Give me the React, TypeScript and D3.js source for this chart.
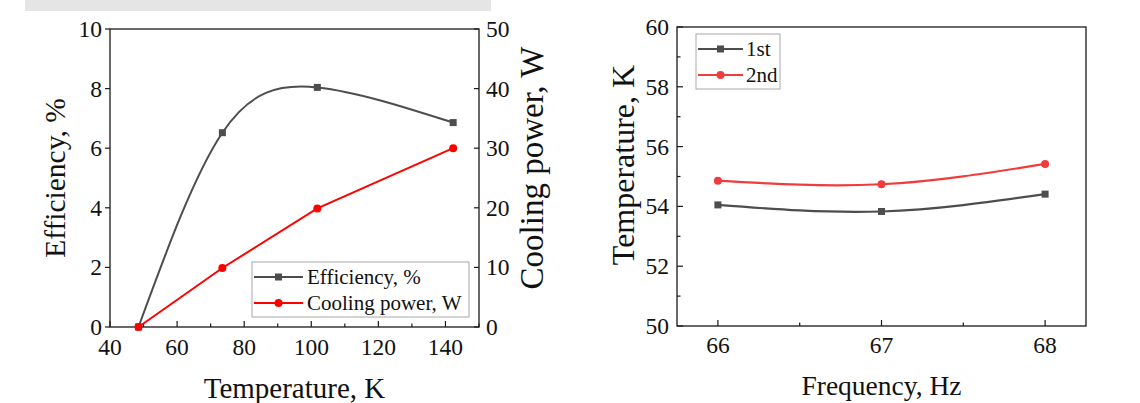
import React from 'react';
import * as d3 from 'd3';

// ---- Left chart data ----
const tempK = [48.5, 73.5, 101.8, 142.3];
const efficiency = [0, 6.52, 8.04, 6.86];
const coolingPower = [0, 9.9, 19.9, 30];
const leftXTicks = [40, 60, 80, 100, 120, 140];
const leftXMinor = [50, 70, 90, 110, 130, 150];
const leftYTicks = [0, 2, 4, 6, 8, 10];
const rightYTicks = [0, 10, 20, 30, 40, 50];

// ---- Right chart data ----
const freqHz = [66, 67, 68];
const run1st = [54.05, 53.83, 54.41];
const run2nd = [54.86, 54.74, 55.42];
const freqTicks = [66, 67, 68];
const freqMinor = [66.5, 67.5];
const tempTicks = [50, 52, 54, 56, 58, 60];
const tempMinor = [51, 53, 55, 57, 59];

const FONT = "'Liberation Serif', 'Times New Roman', Times, serif";
const AX = '#1a1a1a';
const GRAY = '#4d4d4d';
const RED = '#ff0000';
const RED2 = '#f03c3c';
const TICK_FS = 23.5;

export default function App() {
  const xL = d3.scaleLinear().domain([40, 150]).range([110, 479]);
  const yL = d3.scaleLinear().domain([0, 10]).range([327, 29]);
  const yR = d3.scaleLinear().domain([0, 50]).range([327, 29]);

  const effPts: [number, number][] = tempK.map((t, i) => [xL(t), yL(efficiency[i])]);
  const cpPts: [number, number][] = tempK.map((t, i) => [xL(t), yR(coolingPower[i])]);
  const effPath = d3.line().curve(d3.curveNatural)(effPts) || '';
  const cpPath = d3.line()(cpPts) || '';

  const xF = d3.scaleLinear().domain([65.75, 68.25]).range([677, 1086]);
  const yT = d3.scaleLinear().domain([50, 60]).range([326, 27]);
  const p1: [number, number][] = freqHz.map((f, i) => [xF(f), yT(run1st[i])]);
  const p2: [number, number][] = freqHz.map((f, i) => [xF(f), yT(run2nd[i])]);
  const path1 = d3.line().curve(d3.curveNatural)(p1) || '';
  const path2 = d3.line().curve(d3.curveNatural)(p2) || '';

  const [lx0, lx1] = xL.range();
  const [ly0, ly1] = [yL.range()[1], yL.range()[0]];
  const [rx0, rx1] = xF.range();
  const [ry0, ry1] = [yT.range()[1], yT.range()[0]];

  const sq = (x: number, y: number, c: string, k: string) => (
    <rect key={k} x={x - 3.5} y={y - 3.5} width={7} height={7} fill={c} />
  );
  const circ = (x: number, y: number, c: string, k: string) => (
    <circle key={k} cx={x} cy={y} r={4} fill={c} />
  );

  return (
    <svg
      width={1140}
      height={403}
      style={{ position: 'absolute', left: 0, top: 0, background: '#fff', fontFamily: FONT }}
    >
      <style>{`text { font-family: 'Liberation Serif', 'Times New Roman', Times, serif; }`}</style>
      <rect x={0} y={0} width={1140} height={403} fill="#fff" />
      <rect x={25} y={0} width={466} height={11} fill="#e5e5e5" />

      {/* ---------- LEFT CHART ---------- */}
      <g>
        <rect x={lx0} y={ly0} width={lx1 - lx0} height={ly1 - ly0} fill="none" stroke={AX} strokeWidth={1.3} />
        {leftXTicks.map((t) => (
          <g key={'lxt' + t}>
            <line x1={xL(t)} x2={xL(t)} y1={ly1} y2={ly1 - 6} stroke={AX} strokeWidth={1.2} />
            <text x={xL(t)} y={355} fontSize={TICK_FS} textAnchor="middle" fill="#111">{t}</text>
          </g>
        ))}
        {leftXMinor.map((t) => (
          <line key={'lxm' + t} x1={xL(t)} x2={xL(t)} y1={ly1} y2={ly1 - 3.5} stroke={AX} strokeWidth={1.2} />
        ))}
        {leftYTicks.map((t) => (
          <g key={'lyt' + t}>
            <line x1={lx0} x2={lx0 - 5} y1={yL(t)} y2={yL(t)} stroke={AX} strokeWidth={1.2} />
            <text x={102} y={yL(t)} dy="0.34em" fontSize={TICK_FS} textAnchor="end" fill="#111">{t}</text>
          </g>
        ))}
        {rightYTicks.map((t) => (
          <g key={'ryt' + t}>
            <line x1={lx1} x2={lx1 - 5} y1={yR(t)} y2={yR(t)} stroke={AX} strokeWidth={1.2} />
            <text x={486} y={yR(t)} dy="0.34em" fontSize={TICK_FS} textAnchor="start" fill="#111">{t}</text>
          </g>
        ))}
        <text x={(lx0 + lx1) / 2} y={398} fontSize={29} textAnchor="middle" fill="#111">Temperature, K</text>
        <text transform={`translate(65,${178}) rotate(-90)`} fontSize={29.5} textAnchor="middle" fill="#111">Efficiency, %</text>
        <text transform={`translate(543,${168}) rotate(-90)`} fontSize={33} textAnchor="middle" fill="#111">Cooling power, W</text>

        <path d={effPath} fill="none" stroke={GRAY} strokeWidth={2} />
        {effPts.map(([x, y], i) => sq(x, y, GRAY, 'es' + i))}
        <path d={cpPath} fill="none" stroke={RED} strokeWidth={2} />
        {cpPts.map(([x, y], i) => circ(x, y, RED, 'cp' + i))}

        <rect x={252} y={262} width={217} height={55} fill="#fff" stroke="#a8a8a8" strokeWidth={1} />
        <line x1={254} x2={303} y1={277} y2={277} stroke={GRAY} strokeWidth={2} />
        {sq(278.5, 277, GRAY, 'lg1')}
        <text x={307} y={277} dy="0.34em" fontSize={21} fill="#111">Efficiency, %</text>
        <line x1={254} x2={303} y1={303} y2={303} stroke={RED} strokeWidth={2} />
        {circ(278.5, 303, RED, 'lg2')}
        <text x={307} y={303} dy="0.34em" fontSize={21} fill="#111">Cooling power, W</text>
      </g>

      {/* ---------- RIGHT CHART ---------- */}
      <g>
        <rect x={rx0} y={ry0} width={rx1 - rx0} height={ry1 - ry0} fill="none" stroke={AX} strokeWidth={1.3} />
        {freqTicks.map((t) => (
          <g key={'fxt' + t}>
            <line x1={xF(t)} x2={xF(t)} y1={ry1} y2={ry1 - 6} stroke={AX} strokeWidth={1.2} />
            <text x={xF(t)} y={353} fontSize={TICK_FS} textAnchor="middle" fill="#111">{t}</text>
          </g>
        ))}
        {freqMinor.map((t) => (
          <line key={'fxm' + t} x1={xF(t)} x2={xF(t)} y1={ry1} y2={ry1 - 3.5} stroke={AX} strokeWidth={1.2} />
        ))}
        {tempTicks.map((t) => (
          <g key={'tyt' + t}>
            <line x1={rx0} x2={rx0 + 6} y1={yT(t)} y2={yT(t)} stroke={AX} strokeWidth={1.2} />
            <text x={rx0 - 8} y={yT(t)} dy="0.34em" fontSize={TICK_FS} textAnchor="end" fill="#111">{t}</text>
          </g>
        ))}
        {tempMinor.map((t) => (
          <line key={'tym' + t} x1={rx0} x2={rx0 + 3.5} y1={yT(t)} y2={yT(t)} stroke={AX} strokeWidth={1.2} />
        ))}
        <text x={(rx0 + rx1) / 2} y={395} fontSize={27.5} textAnchor="middle" fill="#111">Frequency, Hz</text>
        <text transform={`translate(634,${165}) rotate(-90)`} fontSize={32} textAnchor="middle" fill="#111">Temperature, K</text>

        <path d={path1} fill="none" stroke={GRAY} strokeWidth={2.2} />
        {p1.map(([x, y], i) => sq(x, y, GRAY, 'r1' + i))}
        <path d={path2} fill="none" stroke={RED2} strokeWidth={2.2} />
        {p2.map(([x, y], i) => circ(x, y, RED2, 'r2' + i))}

        <rect x={696} y={34} width={84} height={55} fill="#fff" stroke="#a8a8a8" strokeWidth={1} />
        <line x1={698} x2={743} y1={49} y2={49} stroke={GRAY} strokeWidth={2.2} />
        {sq(720.5, 49, GRAY, 'rl1')}
        <text x={746} y={49} dy="0.34em" fontSize={21} fill="#111">1st</text>
        <line x1={698} x2={743} y1={75} y2={75} stroke={RED2} strokeWidth={2.2} />
        {circ(720.5, 75, RED2, 'rl2')}
        <text x={746} y={75} dy="0.34em" fontSize={21} fill="#111">2nd</text>
      </g>
    </svg>
  );
}
